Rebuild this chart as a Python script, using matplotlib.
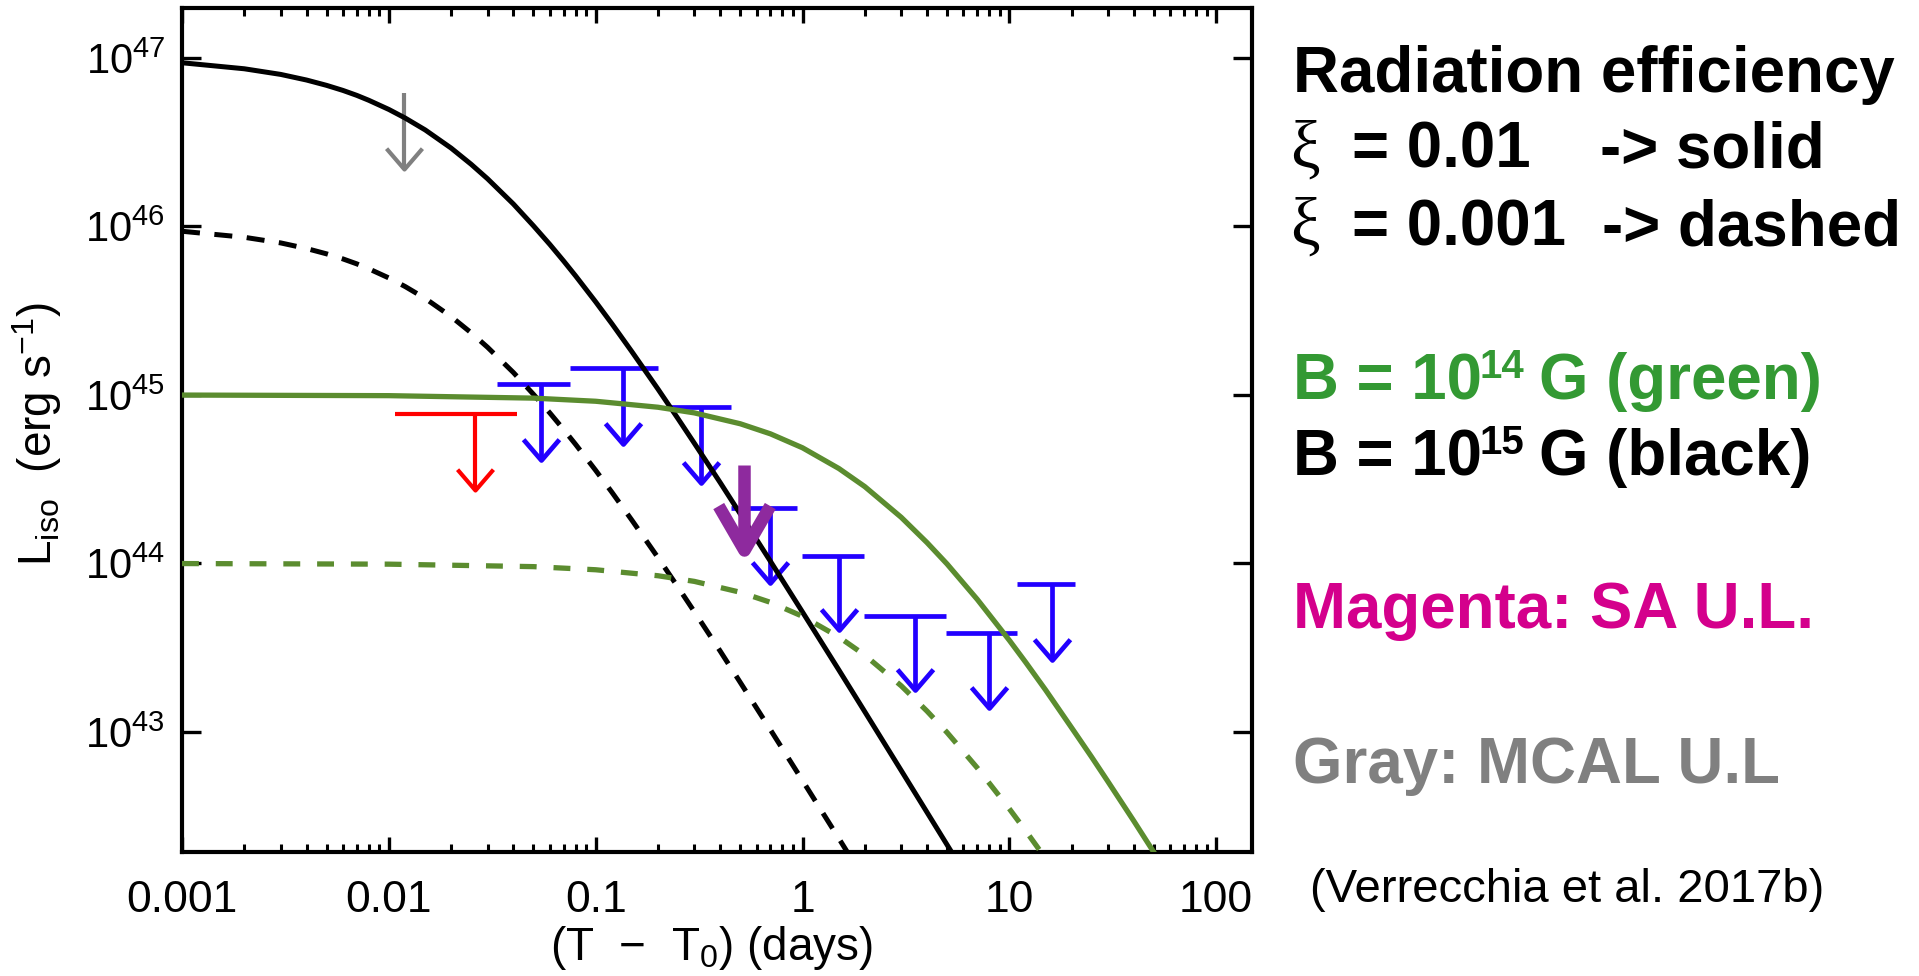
import matplotlib
matplotlib.use('Agg')
import matplotlib.pyplot as plt
from matplotlib.path import Path
from matplotlib.markers import MarkerStyle
from matplotlib.ticker import LogLocator, NullFormatter, NullLocator

plt.rcParams['font.family'] = ['Liberation Sans', 'DejaVu Sans']
plt.rcParams['mathtext.default'] = 'regular'

# ---------------- data ----------------
# model curves, B = 1e15 G (black)
t_black = [0.001, 0.002, 0.003, 0.004, 0.005, 0.006, 0.007, 0.008, 0.01, 0.012, 0.015,
           0.02, 0.025, 0.03, 0.04, 0.05, 0.06, 0.07, 0.08, 0.1, 0.12, 0.15, 0.2, 0.25,
           0.3, 0.4, 0.5, 0.7, 1.0, 1.5, 2.0, 3.0, 5.0, 6.0]
L_black_solid = [9.37e46, 8.63e46, 7.99e46, 7.40e46, 6.88e46, 6.42e46, 6.00e46, 5.61e46,
                 4.95e46, 4.40e46, 3.74e46, 2.92e46, 2.34e46, 1.92e46, 1.36e46, 1.01e46,
                 7.83e45, 6.24e45, 5.09e45, 3.57e45, 2.64e45, 1.80e45, 1.085e45, 7.24e44,
                 5.17e44, 3.02e44, 1.97e44, 1.03e44, 5.15e43, 2.33e43, 1.32e43, 5.91e42,
                 2.14e42, 1.49e42]
L_black_dashed = [9.37e45, 8.63e45, 7.99e45, 7.40e45, 6.88e45, 6.42e45, 6.00e45, 5.61e45,
                  4.95e45, 4.40e45, 3.74e45, 2.92e45, 2.34e45, 1.92e45, 1.36e45, 1.01e45,
                  7.83e44, 6.24e44, 5.09e44, 3.57e44, 2.64e44, 1.80e44, 1.085e44, 7.24e43,
                  5.17e43, 3.02e43, 1.97e43, 1.03e43, 5.15e42, 2.33e42, 1.32e42, 5.91e41,
                  2.14e41, 1.49e41]
# model curves, B = 1e14 G (green)
t_green = [0.001, 0.01, 0.05, 0.1, 0.2, 0.3, 0.5, 0.7, 1.0, 1.5, 2.0, 3.0, 4.0, 5.0, 7.0,
           10.0, 12.0, 15.0, 20.0, 25.0, 30.0, 40.0, 50.0, 60.0]
L_green_solid = [9.99e44, 9.91e44, 9.58e44, 9.18e44, 8.46e44, 7.83e44, 6.75e44, 5.88e44,
                 4.86e44, 3.66e44, 2.86e44, 1.88e44, 1.33e44, 9.93e43, 6.12e43, 3.50e43,
                 2.59e43, 1.77e43, 1.06e43, 7.10e42, 5.07e42, 2.96e42, 1.93e42, 1.36e42]
L_green_dashed = [9.99e43, 9.91e43, 9.58e43, 9.18e43, 8.46e43, 7.83e43, 6.75e43, 5.88e43,
                  4.86e43, 3.66e43, 2.86e43, 1.88e43, 1.33e43, 9.93e42, 6.12e42, 3.50e42,
                  2.59e42, 1.77e42, 1.06e42, 7.10e41, 5.07e41, 2.96e41, 1.93e41, 1.36e41]

# blue upper limits: time, bin start, bin end, limit level, arrow tip
blue_t = [0.0542, 0.136, 0.324, 0.693, 1.5, 3.48, 7.93, 16.07]
blue_lo = [0.0335, 0.0748, 0.2237, 0.449, 0.993, 1.99, 4.92, 10.9]
blue_hi = [0.0748, 0.1995, 0.449, 0.944, 1.99, 4.92, 10.9, 20.8]
blue_ul = [1.16e45, 1.45e45, 8.45e44, 2.14e44, 1.11e44, 4.87e43, 3.88e43, 7.56e43]
blue_tip = [4.1e44, 5.1e44, 3.0e44, 7.7e43, 4.05e43, 1.78e43, 1.39e43, 2.68e43]

# red upper limit
red_t = [0.026]
red_lo = [0.0107]
red_hi = [0.0417]
red_ul = [7.67e44]
red_tip = [2.73e44]

# gray (MCAL) upper limit
gray_t = [0.01184]
gray_ul = [6.17e46]
gray_tip = [2.18e46]

# magenta (SA) upper limit
mag_t = [0.522]
mag_ul = [3.85e44]
mag_tip = [1.2e44]

x_ticks = [1e-3, 1e-2, 1e-1, 1, 10, 100]
x_ticklabels = ['0.001', '0.01', '0.1', '1', '10', '100']
y_ticks = [1e43, 1e44, 1e45, 1e46, 1e47]
y_ticklabels = [r'$10^{43}$', r'$10^{44}$', r'$10^{45}$', r'$10^{46}$', r'$10^{47}$']

# ---------------- figure ----------------
W, H = 1919, 976
fig = plt.figure(figsize=(W / 100, H / 100), dpi=100)
ax = fig.add_axes([182 / W, 1 - 852 / H, (1252 - 182) / W, (852 - 8) / H])
ax.set_xscale('log')
ax.set_yscale('log')
ax.set_xlim(1e-3, 149)
ax.set_ylim(1.94e42, 1.98e47)

BLUE = '#2200FF'
RED = '#FF0000'
GRAY = '#808080'
GREEN = '#5B8C2F'
PURPLE = '#8E2A9E'


def vmark(ratio):
    verts = [(-ratio, 1.0), (0.0, 0.0), (ratio, 1.0)]
    return MarkerStyle(Path(verts, [Path.MOVETO, Path.LINETO, Path.LINETO]),
                       joinstyle='miter')


def upper_limits(ts, uls, tips, color, lw, ms, ratio, z, lo=None, hi=None):
    for i in range(len(ts)):
        if lo is not None:
            ax.plot([lo[i], hi[i]], [uls[i], uls[i]], color=color, lw=lw,
                    solid_capstyle='butt', zorder=z)
        ax.plot([ts[i], ts[i]], [uls[i], tips[i]], color=color, lw=lw,
                solid_capstyle='butt', zorder=z)
        ax.plot([ts[i]], [tips[i]], linestyle='none', marker=vmark(ratio), ms=ms,
                mec=color, mfc='none', mew=lw, zorder=z)


upper_limits(blue_t, blue_ul, blue_tip, BLUE, 3.4, 30, 0.86, 2, blue_lo, blue_hi)
upper_limits(red_t, red_ul, red_tip, RED, 3.0, 30, 0.86, 2, red_lo, red_hi)
upper_limits(gray_t, gray_ul, gray_tip, GRAY, 3.0, 30, 0.86, 2)

ax.plot(t_black, L_black_solid, color='black', lw=3.6, zorder=3)
ax.plot(t_black, L_black_dashed, color='black', lw=3.6, linestyle=(0, (3.6, 2.9)), zorder=3)
ax.plot(t_green, L_green_solid, color=GREEN, lw=3.8, zorder=3)
ax.plot(t_green, L_green_dashed, color=GREEN, lw=3.8, linestyle=(0, (3.2, 3.2)), zorder=3)

upper_limits(mag_t, mag_ul, mag_tip, PURPLE, 9.0, 64, 0.58, 4)

# axes styling
for s in ax.spines.values():
    s.set_linewidth(3.0)
ax.set_xticks(x_ticks)
ax.set_xticklabels(x_ticklabels)
ax.set_yticks(y_ticks)
ax.set_yticklabels(y_ticklabels)
ax.xaxis.set_minor_locator(LogLocator(base=10, subs=[2, 3, 4, 5, 6, 7, 8, 9], numticks=20))
ax.xaxis.set_minor_formatter(NullFormatter())
ax.yaxis.set_minor_locator(NullLocator())
ax.tick_params(axis='x', which='major', direction='in', top=True, bottom=True,
               length=11, width=2.4, pad=20, labelsize=32)
ax.tick_params(axis='x', which='minor', direction='in', top=True, bottom=True,
               length=5.5, width=2.2)
ax.tick_params(axis='y', which='major', direction='in', left=True, right=True,
               length=14, width=2.4, pad=12, labelsize=30)

fig.text(37 / W, 1 - 434 / H, r'L$_{iso}$  (erg s$^{-1}$)', rotation=90,
         ha='center', va='center', fontsize=33)
fig.text(712 / W, 1 - 948 / H, r'(T  $-$  T$_0$) (days)', ha='center', va='center',
         fontsize=33)


# right-hand annotations
def ptext(x, y, s, **kw):
    fig.text(x / W, 1 - y / H, s, ha='left', va='baseline', **kw)


BOLD = dict(fontsize=45.8, fontweight='bold', family='Liberation Sans')
ptext(1293, 92, 'Radiation efficiency', color='black', **BOLD)
ptext(1290, 168, 'ξ', color='black', fontsize=48, family='Liberation Serif')
ptext(1352, 168, '= 0.01', color='black', **BOLD)
ptext(1600, 168, '-> solid', color='black', **BOLD)
ptext(1290, 245, 'ξ', color='black', fontsize=48, family='Liberation Serif')
ptext(1352, 245, '= 0.001', color='black', **BOLD)
ptext(1602, 245, '-> dashed', color='black', **BOLD)

GTXT = '#339933'
ptext(1293, 399, 'B = 10', color=GTXT, **BOLD)
ptext(1479, 378, '14', color=GTXT, fontsize=29, fontweight='bold', family='Liberation Sans')
ptext(1539, 399, 'G (green)', color=GTXT, **BOLD)
ptext(1293, 475, 'B = 10', color='black', **BOLD)
ptext(1479, 454, '15', color='black', fontsize=29, fontweight='bold', family='Liberation Sans')
ptext(1539, 475, 'G (black)', color='black', **BOLD)

ptext(1293, 628, 'Magenta: SA U.L.', color='#D4008C', **BOLD)
ptext(1293, 783, 'Gray: MCAL U.L', color='#808080', **BOLD)
ptext(1310, 902, '(Verrecchia et al. 2017b)', color='black', fontsize=34,
      family='Liberation Sans')

fig.savefig('out.png', dpi=100)
